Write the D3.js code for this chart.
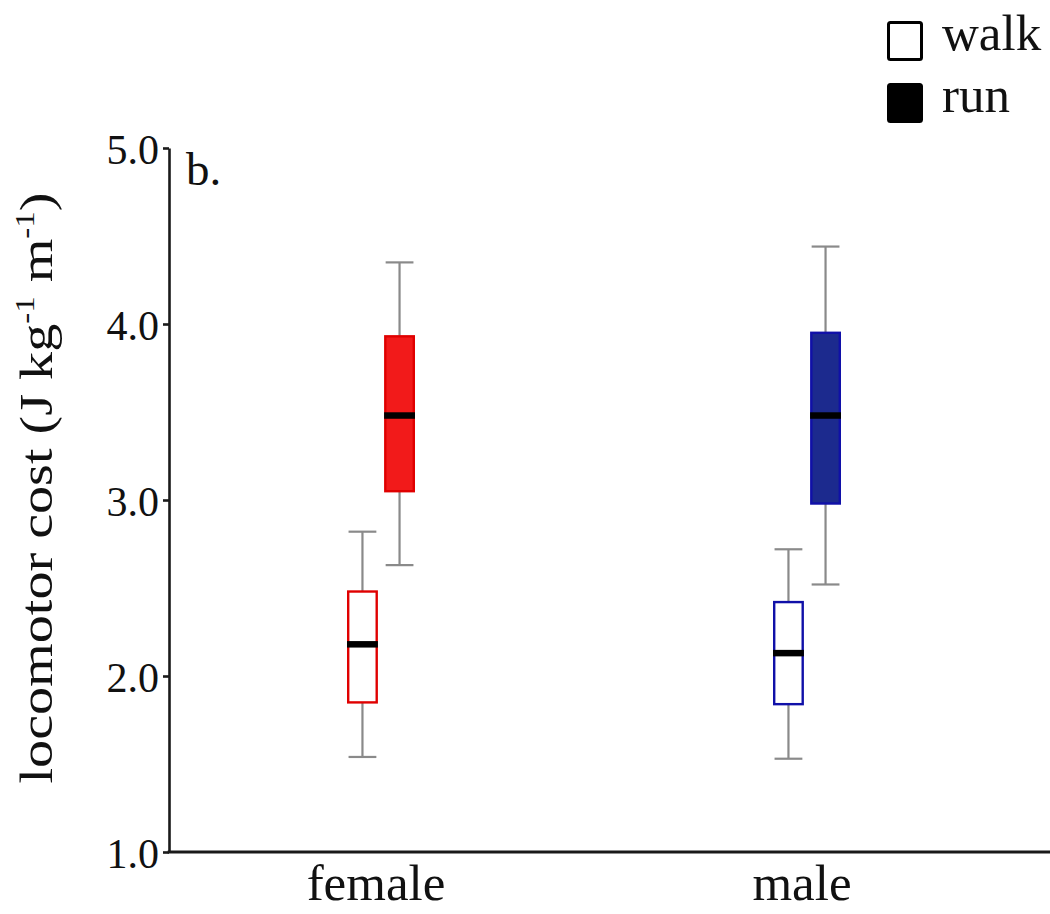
<!DOCTYPE html>
<html>
<head>
<meta charset="utf-8">
<script src="https://cdn.jsdelivr.net/npm/d3@7"></script>
<style>
  html, body { margin: 0; padding: 0; background: #fff; }
  svg { display: block; }
  text { font-family: "Liberation Serif", "Times New Roman", serif; fill: #111; }
</style>
</head>
<body>
<svg id="chart" width="1050" height="914"></svg>
<script>
// ---- data ----
const categories = ["female", "male"];
const conditions = ["walk", "run"];
// box statistics per category, in condition order [walk, run]
const whiskerLow  = { female: [1.54, 2.63], male: [1.53, 2.52] };
const q1          = { female: [1.85, 3.05], male: [1.84, 2.98] };
const median      = { female: [2.18, 3.48], male: [2.13, 3.48] };
const q3          = { female: [2.48, 3.93], male: [2.42, 3.95] };
const whiskerHigh = { female: [2.82, 4.35], male: [2.72, 4.44] };
const yTicks = [1.0, 2.0, 3.0, 4.0, 5.0];
const yDomain = [1, 5];
const panelLabel = "b.";

// ---- styles ----
const catColor = { female: "#f21a1a", male: "#1c2a8e" };
const catStroke = { female: "#e00000", male: "#1010a8" };

const svg = d3.select("#chart");
const mLeft = 169, mTop = 148, mBottom = 852;

const y = d3.scaleLinear().domain(yDomain).range([mBottom, mTop]);
const x = d3.scaleBand().domain(categories).range([168, 1020]).paddingInner(0).paddingOuter(0);
const xInner = d3.scaleBand().domain(conditions).range([-34, 34]).paddingInner(1/6);

const rows = [];
categories.forEach(c => conditions.forEach((k, i) => rows.push({
  cat: c, cond: k,
  lo: whiskerLow[c][i], q1: q1[c][i], med: median[c][i], q3: q3[c][i], hi: whiskerHigh[c][i]
})));

const g = svg.append("g");
const bw = xInner.bandwidth();
const groups = g.selectAll("g.box").data(rows).join("g")
  .attr("class", "box")
  .attr("transform", d => `translate(${x(d.cat) + x.bandwidth() / 2 + xInner(d.cond) + bw / 2},0)`);

// whiskers
groups.append("line")
  .attr("x1", 0).attr("x2", 0)
  .attr("y1", d => y(d.lo)).attr("y2", d => y(d.hi))
  .attr("stroke", "#8a8a8a").attr("stroke-width", 2.2);
groups.selectAll("line.cap").data(d => [d.lo, d.hi]).join("line")
  .attr("class", "cap")
  .attr("x1", -bw * 0.45).attr("x2", bw * 0.45)
  .attr("y1", v => y(v)).attr("y2", v => y(v))
  .attr("stroke", "#8a8a8a").attr("stroke-width", 2.2);

// boxes
groups.append("rect")
  .attr("x", -bw / 2 + 1.2).attr("width", bw - 2.4)
  .attr("y", d => y(d.q3)).attr("height", d => y(d.q1) - y(d.q3))
  .attr("fill", d => d.cond === "run" ? catColor[d.cat] : "#fff")
  .attr("stroke", d => catStroke[d.cat])
  .attr("stroke-width", 2.4);

// medians
groups.append("line")
  .attr("x1", -bw / 2).attr("x2", bw / 2)
  .attr("y1", d => y(d.med)).attr("y2", d => y(d.med))
  .attr("stroke", "#000").attr("stroke-width", 6.5);

// y axis
const yAxis = svg.append("g")
  .attr("transform", `translate(${mLeft},0)`)
  .call(d3.axisLeft(y).tickValues(yTicks).tickFormat(d3.format(".1f")).tickSize(6).tickSizeOuter(0).tickPadding(4));
yAxis.select(".domain").attr("stroke", "#1a1a1a").attr("stroke-width", 2.6);
yAxis.selectAll(".tick line").attr("stroke", "#1a1a1a").attr("stroke-width", 2.6);
yAxis.selectAll(".tick text").attr("font-size", 42).attr("font-family", "Liberation Serif").attr("fill", "#111").attr("dy", "0.36em");

// x axis
svg.append("line")
  .attr("x1", mLeft - 1.3).attr("x2", 1050)
  .attr("y1", mBottom).attr("y2", mBottom)
  .attr("stroke", "#1a1a1a").attr("stroke-width", 3);
const xAxis = svg.append("g")
  .attr("transform", `translate(-5,${mBottom})`)
  .call(d3.axisBottom(x).tickSize(0).tickPadding(0));
xAxis.select(".domain").remove();
xAxis.selectAll(".tick text").attr("font-size", 51).attr("font-family", "Liberation Serif")
  .attr("fill", "#111").attr("dy", 0).attr("y", 48);

// y title
svg.append("text")
  .attr("transform", `translate(52,488) rotate(-90) scale(1.22,1)`)
  .attr("text-anchor", "middle")
  .attr("font-size", 46)
  .call(t => {
    t.append("tspan").text("locomotor cost (J kg");
    t.append("tspan").text("-1").attr("font-size", 27).attr("dy", -18);
    t.append("tspan").text(" m").attr("dy", 18);
    t.append("tspan").text("-1").attr("font-size", 27).attr("dy", -18);
    t.append("tspan").text(")").attr("dy", 18);
  });

// panel label
svg.append("text").attr("x", 186).attr("y", 185).attr("font-size", 47).text(panelLabel);

// legend
const legend = svg.append("g");
const legendItems = [{ name: "walk", filled: false }, { name: "run", filled: true }];
const lg = legend.selectAll("g").data(legendItems).join("g")
  .attr("transform", (d, i) => `translate(887,${21 + i * 62})`);
lg.append("rect")
  .attr("x", 1.5).attr("y", 1.5).attr("width", 33).attr("height", 37).attr("rx", 2)
  .attr("fill", d => d.filled ? "#000" : "#fff")
  .attr("stroke", "#000").attr("stroke-width", 3);
lg.append("text").attr("x", 55).attr("y", 29).attr("font-size", 51).text(d => d.name);
</script>
</body>
</html>
